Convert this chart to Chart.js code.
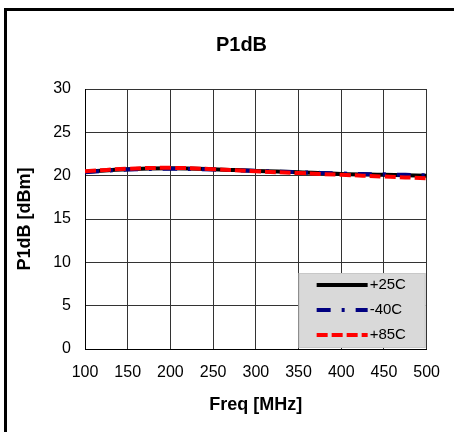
<!DOCTYPE html>
<html>
<head>
<meta charset="utf-8">
<script src="https://cdn.jsdelivr.net/npm/chart.js@4"></script>
<style>
  body { margin: 0; background: #fff; }
  #frame { position: absolute; left: 4px; top: 8px; width: 600px; height: 600px;
           border-left: 3px solid #000; border-top: 3px solid #000; }
  #wrap { position: absolute; left: 0; top: 0; width: 454px; height: 432px; }
</style>
</head>
<body>
<div id="frame"></div>
<div id="wrap"><canvas id="myChart" width="454" height="432"></canvas></div>
<script>
var freqs = [100, 150, 200, 250, 300, 350, 400, 450, 500];
var p25 = [20.45, 20.75, 20.85, 20.75, 20.55, 20.4, 20.2, 20.1, 20.0];
var m40 = [20.4, 20.7, 20.8, 20.7, 20.55, 20.4, 20.25, 20.15, 20.05];
var p85 = [20.5, 20.8, 20.9, 20.75, 20.5, 20.3, 20.1, 19.9, 19.7];
var yTicks = [0, 5, 10, 15, 20, 25, 30];

function pts(ys) {
  return freqs.map(function (f, i) { return { x: f, y: ys[i] }; });
}

// legend box drawn inside the plot, bottom right
var boxLegend = {
  id: 'boxLegend',
  afterDraw: function (chart) {
    var ctx = chart.ctx;
    var a = chart.chartArea;
    var x0 = a.right - 128, y0 = a.bottom - 76;
    ctx.save();
    ctx.fillStyle = '#d9d9d9';
    ctx.fillRect(x0, y0, 127, 75);
    ctx.strokeStyle = '#c8c8c8';
    ctx.lineWidth = 1;
    ctx.strokeRect(x0 + 0.5, y0 + 0.5, 126, 74);
    ctx.font = '15px "Liberation Sans", Arial, sans-serif';
    ctx.textBaseline = 'middle';
    chart.data.datasets.forEach(function (ds, i) {
      var y = y0 + 12 + i * 25;
      ctx.beginPath();
      ctx.strokeStyle = ds.borderColor;
      ctx.lineWidth = 4;
      ctx.setLineDash(ds.borderDash || []);
      ctx.moveTo(x0 + 18, y);
      ctx.lineTo(x0 + 69, y);
      ctx.stroke();
      ctx.setLineDash([]);
      ctx.fillStyle = '#000';
      ctx.fillText(ds.label, x0 + 71, y);
    });
    ctx.restore();
  }
};

var ctx = document.getElementById('myChart').getContext('2d');
Chart.defaults.font.family = '"Liberation Sans", Arial, sans-serif';
Chart.defaults.color = '#000';

var myChart = new Chart(ctx, {
  type: 'line',
  data: {
    datasets: [
      { label: '+25C', data: pts(p25), order: 2, borderColor: '#000000', borderWidth: 4, pointRadius: 0, tension: 0.4 },
      { label: '-40C', data: pts(m40), order: 1, borderColor: '#000080', borderWidth: 4, borderDash: [14, 11, 3, 11], pointRadius: 0, tension: 0.4 },
      { label: '+85C', data: pts(p85), order: 0, borderColor: '#ff0000', borderWidth: 4, borderDash: [11, 4], pointRadius: 0, tension: 0.4 }
    ]
  },
  options: {
    responsive: false,
    animation: false,
    layout: { padding: { left: 51, right: 22, top: 0, bottom: 0 } },
    plugins: {
      legend: { display: false },
      tooltip: { enabled: false },
      title: {
        display: true,
        text: 'P1dB',
        font: { size: 20, weight: 'bold' },
        padding: { top: 33, bottom: 32 }
      }
    },
    scales: {
      x: {
        type: 'linear',
        min: 100, max: 500,
        afterFit: function (s) { s.height = 83; },
        ticks: { stepSize: 50, padding: 14, font: { size: 16 }, maxRotation: 0 },
        grid: { color: '#333', drawTicks: false },
        border: { color: '#000' },
        title: { display: true, text: 'Freq [MHz]', font: { size: 18, weight: 'bold' }, padding: { top: 0, bottom: 16 } }
      },
      y: {
        min: 0, max: 30,
        afterFit: function (s) { s.width = 34; },
        afterBuildTicks: function (s) { s.ticks = yTicks.map(function (v) { return { value: v }; }); },
        ticks: { padding: 14, font: { size: 16 } },
        grid: { color: '#333', drawTicks: false },
        border: { color: '#000' },
        title: { display: true, text: 'P1dB [dBm]', font: { size: 18, weight: 'bold' }, padding: { top: -37, bottom: 0 } }
      }
    }
  },
  plugins: [boxLegend]
});
</script>
</body>
</html>
